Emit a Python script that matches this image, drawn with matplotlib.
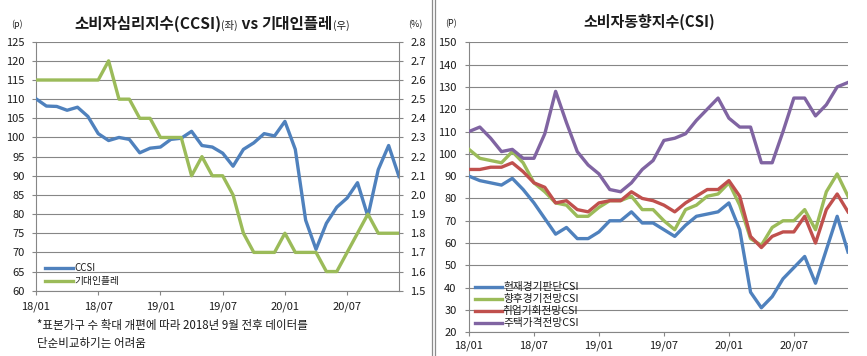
import matplotlib
matplotlib.use('Agg')
import matplotlib.pyplot as plt
from matplotlib.lines import Line2D
import numpy as np

plt.rcParams['font.family'] = ['Noto Sans CJK KR', 'DejaVu Sans']

# ---------------- data ----------------
months = [f"{y}/{m:02d}" for y in (18, 19, 20) for m in range(1, 13)]
tick_labels = ['18/01', '18/07', '19/01', '19/07', '20/01', '20/07']

ccsi = [110.1, 108.2, 108.1, 107.1, 107.9, 105.5, 101.0, 99.2, 100.0, 99.5, 96.0, 97.2,
        97.5, 99.5, 99.8, 101.6, 97.9, 97.5, 95.9, 92.5, 96.9, 98.6, 101.0, 100.4,
        104.2, 96.9, 78.4, 70.8, 77.6, 81.8, 84.2, 88.2, 79.4, 91.6, 97.9, 89.8]
exp_inflation = [2.6, 2.6, 2.6, 2.6, 2.6, 2.6, 2.6, 2.7, 2.5, 2.5, 2.4, 2.4,
                 2.3, 2.3, 2.3, 2.1, 2.2, 2.1, 2.1, 2.0, 1.8, 1.7, 1.7, 1.7,
                 1.8, 1.7, 1.7, 1.7, 1.6, 1.6, 1.7, 1.8, 1.9, 1.8, 1.8, 1.8]

csi_current = [90, 88, 87, 86, 89, 84, 78, 71, 64, 67, 62, 62,
               65, 70, 70, 74, 69, 69, 66, 63, 68, 72, 73, 74,
               78, 66, 38, 31, 36, 44, 49, 54, 42, 57, 72, 56]
csi_outlook = [102, 98, 97, 96, 101, 96, 87, 83, 78, 77, 72, 72,
               76, 79, 79, 81, 75, 75, 70, 66, 75, 77, 81, 82,
               87, 77, 62, 59, 67, 70, 70, 75, 66, 83, 91, 81]
csi_jobs = [93, 93, 94, 94, 96, 92, 87, 85, 78, 79, 75, 74,
            78, 79, 79, 83, 80, 79, 77, 74, 78, 81, 84, 84,
            88, 81, 63, 58, 63, 65, 65, 72, 60, 75, 82, 74]
csi_house = [110, 112, 107, 101, 102, 98, 98, 109, 128, 114, 101, 95,
             91, 84, 83, 87, 93, 97, 106, 107, 109, 115, 120, 125,
             116, 112, 112, 96, 96, 110, 125, 125, 117, 122, 130, 132]

left_legend = ['CCSI', '기대인플레']
right_legend = ['현재경기판단CSI', '향후경기전망CSI', '취업기회전망CSI', '주택가격전망CSI']

BLUE, RED, GREEN, PURPLE = '#4F81BD', '#C0504D', '#9BBB59', '#8064A2'
GRID = '#868686'
TXT = '#1a1a1a'

# ---------------- figure ----------------
W, H = 867, 356
fig = plt.figure(figsize=(W / 100, H / 100), dpi=100)
fig.patch.set_facecolor('white')


def fx(px):
    return px / W


def fy(py):
    return 1 - py / H


def style_axis(ax, left=True):
    for s in ['top', 'right'] if left else ['top', 'left', 'right']:
        ax.spines[s].set_visible(False)
    for s in ax.spines.values():
        s.set_color(GRID)
        s.set_linewidth(0.8)
    ax.tick_params(direction='out', length=3, width=0.8, color=GRID,
                   labelsize=8, labelcolor=TXT, pad=5)


x = np.arange(len(months))
xt = [months.index(t) for t in tick_labels]

# ---------------- left panel ----------------
ax1 = fig.add_axes([fx(36), fy(290.7), fx(399) - fx(36), fy(41.7) - fy(290.7)])
ax2 = ax1.twinx()
ax1.plot(x, ccsi, color=BLUE, lw=2.4, solid_joinstyle='round', zorder=3)
ax2.plot(x, exp_inflation, color=GREEN, lw=2.4, solid_joinstyle='round', zorder=3)
ax1.set_xlim(0, len(months) - 1)
ax1.set_ylim(60, 125)
ax1.set_yticks(np.arange(60, 126, 5))
ax2.set_ylim(1.5, 2.8)
ax2.set_yticks(np.round(np.arange(1.5, 2.81, 0.1), 1))
ax2.set_yticklabels([f"{v:.1f}" for v in np.round(np.arange(1.5, 2.81, 0.1), 1)])
ax1.set_xticks(xt)
ax1.set_xticklabels(tick_labels)
ax1.yaxis.grid(True, color=GRID, lw=0.8)
ax1.set_axisbelow(True)
style_axis(ax1)
for s in ['top', 'left', 'bottom']:
    ax2.spines[s].set_visible(False)
ax2.spines['right'].set_color(GRID)
ax2.spines['right'].set_linewidth(0.8)
ax2.tick_params(direction='out', length=3, width=0.8, color=GRID,
                labelsize=8, labelcolor=TXT, pad=5)

# ---------------- right panel ----------------
ax3 = fig.add_axes([fx(469), fy(332.3), fx(848) - fx(469), fy(42.3) - fy(332.3)])
for vals, col in zip([csi_current, csi_outlook, csi_jobs, csi_house], [BLUE, GREEN, RED, PURPLE]):
    ax3.plot(x, vals, color=col, lw=2.4, solid_joinstyle='round', zorder=3)
ax3.set_xlim(0, len(months) - 1)
ax3.set_ylim(20, 150)
ax3.set_yticks(np.arange(20, 151, 10))
ax3.set_xticks(xt)
ax3.set_xticklabels(tick_labels)
ax3.yaxis.grid(True, color=GRID, lw=0.8)
ax3.set_axisbelow(True)
style_axis(ax3)
ax3.spines['left'].set_visible(True)
ax3.tick_params(axis='y', pad=6)
ax3.tick_params(axis='x', pad=3)

# ---------------- legends (manual) ----------------
def legend_rows(labels, colors, x0, x1, ys, fs):
    for lab, col, y in zip(labels, colors, ys):
        fig.add_artist(Line2D([fx(x0), fx(x1)], [fy(y), fy(y)], color=col, lw=2.4,
                              transform=fig.transFigure))
        fig.text(fx(x1 + 1), fy(y), lab, fontsize=fs, va='center', ha='left', color=TXT)


legend_rows(left_legend, [BLUE, GREEN], 45, 73, [268, 281], 7.0)
legend_rows(right_legend, [BLUE, GREEN, RED, PURPLE], 475, 502, [287, 299, 311, 323], 7.7)

# ---------------- titles ----------------
renderer = fig.canvas.get_renderer()


def seg_title(segments, cx, base_y):
    arts = []
    widths = []
    for s, size, weight in segments:
        t = fig.text(0, fy(base_y), s, fontsize=size, fontweight=weight,
                     va='baseline', ha='left', color=TXT)
        widths.append(t.get_window_extent(renderer).width)
        arts.append(t)
    pos = cx - sum(widths) / 2
    for t, w in zip(arts, widths):
        t.set_x(fx(pos))
        pos += w


seg_title([('소비자심리지수(CCSI)', 11.2, 'bold'), ('(좌)', 7.5, 'normal'),
           (' vs ', 11.2, 'bold'), ('기대인플레', 11.2, 'bold'), ('(우)', 7.5, 'normal')],
          212, 29)
seg_title([('소비자동향지수(CSI)', 10.8, 'bold')], 649.5, 27)

# units
fig.text(fx(17), fy(24), '(p)', fontsize=6.5, ha='center', va='center', color=TXT)
fig.text(fx(415), fy(25), '(%)', fontsize=6.5, ha='center', va='center', color=TXT)
fig.text(fx(451), fy(24), '(P)', fontsize=6.5, ha='center', va='center', color=TXT)

# footnote
fig.text(fx(37), fy(325), '*표본가구 수 확대 개편에 따라 2018년 9월 전후 데이터를',
         fontsize=8.3, ha='left', va='center', color=TXT)
fig.text(fx(37), fy(343), '단순비교하기는 어려움', fontsize=8.3, ha='left', va='center', color=TXT)

# panel borders
for px in (432, 435):
    fig.add_artist(Line2D([fx(px), fx(px)], [0, 1], color='#8c8c8c', lw=0.9,
                          transform=fig.transFigure))

fig.savefig('out.png', dpi=100)
